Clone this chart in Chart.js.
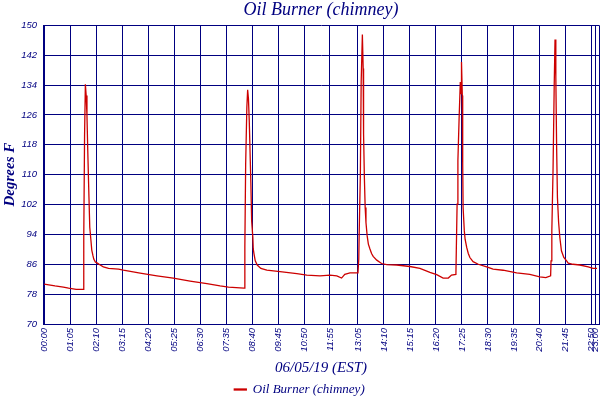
<!DOCTYPE html>
<html>
<head>
<meta charset="utf-8">
<title>Oil Burner (chimney)</title>
<script src="https://cdn.jsdelivr.net/npm/chart.js@4/dist/chart.umd.min.js"></script>
<style>
  html, body { margin: 0; padding: 0; background: #fff; }
  #wrap { width: 600px; height: 400px; }
</style>
</head>
<body>
<div id="wrap"><canvas id="burnerChart" width="600" height="400"></canvas></div>
<script>
// minutes after midnight
const times = [
  0, 27, 48, 61, 80, 98,
  99, 101, 103, 105, 107, 109, 112, 114, 117, 119, 122, 124, 128, 133, 140,
  148, 161, 186, 198, 240, 282, 323, 365, 407, 440, 461, 490, 500,
  502, 504, 507, 509, 511, 513, 517, 519, 522, 523, 525, 528, 533, 542,
  557, 590, 632, 657, 690, 715, 732, 744, 752, 765, 785,
  787, 788, 791, 793, 796, 798, 799, 801, 803, 805, 808, 811, 815, 819, 823,
  832, 844, 857, 882, 915, 940, 965, 982, 998, 1011, 1019, 1030,
  1031, 1033, 1035, 1038, 1041, 1043, 1044, 1046, 1047, 1048, 1051, 1053, 1057,
  1061, 1065, 1073, 1086, 1107, 1123, 1148, 1182, 1215, 1240, 1255, 1267,
  1268, 1270, 1273, 1276, 1278, 1280, 1282, 1284, 1287, 1290, 1294, 1300,
  1307, 1311, 1323, 1340, 1361, 1373, 1383
];

// chimney temperature, degrees F
const temps = [
  80.7, 80.2, 79.9, 79.6, 79.3, 79.3,
  93.0, 120.5, 134.2, 131.2, 125.8, 116.4, 103.9, 95.9, 92.3, 89.8, 88.3, 87.4, 86.6, 86.3, 85.8,
  85.3, 84.9, 84.7, 84.4, 83.6, 82.9, 82.3, 81.5, 80.8, 80.2, 79.9, 79.7, 79.6,
  90.7, 112.7, 128.1, 132.7, 130.3, 124.5, 107.9, 97.6, 93.2, 90.1, 88.7, 86.9, 85.8, 84.9,
  84.4, 84.0, 83.5, 83.1, 82.9, 83.1, 82.9, 82.3, 83.3, 83.7, 83.7,
  87.4, 94.1, 110.2, 134.8, 147.5, 138.4, 120.9, 109.3, 101.2, 97.2, 93.6, 91.4, 90.1, 88.9, 88.1,
  87.1, 86.2, 85.9, 85.8, 85.4, 84.9, 83.8, 83.2, 82.3, 82.3, 83.1, 83.3,
  89.6, 102.1, 113.8, 125.0, 134.8, 131.7, 140.2, 131.2, 112.9, 101.2, 95.0, 92.7, 90.5,
  88.9, 87.8, 86.7, 86.0, 85.3, 84.7, 84.4, 83.7, 83.3, 82.6, 82.4, 82.9,
  86.9, 95.0, 111.1, 134.3, 146.2, 136.1, 117.3, 103.9, 97.2, 93.2, 89.6, 87.8,
  86.9, 86.3, 86.0, 85.8, 85.3, 84.9, 84.9
];

// x-axis ticks
const tickMinutes = [0, 65, 130, 195, 260, 325, 390, 455, 520, 585, 650, 715, 785, 850,
  915, 980, 1045, 1110, 1175, 1240, 1305, 1370, 1380];
const tickLabels = ['00:00', '01:05', '02:10', '03:15', '04:20', '05:25', '06:30', '07:35',
  '08:40', '09:45', '10:50', '11:55', '13:05', '14:10', '15:15', '16:20', '17:25', '18:30',
  '19:35', '20:40', '21:45', '22:50', '23:00'];

const xMin = -3, xMax = 1388;
const navy = '#000080';
const red = '#cc0000';

const points = times.map((t, i) => ({ x: t, y: temps[i] }));

new Chart(document.getElementById('burnerChart'), {
  type: 'line',
  data: {
    datasets: [{
      label: 'Oil Burner (chimney)',
      data: points,
      borderColor: red,
      backgroundColor: red,
      borderWidth: 1.3,
      pointRadius: 0,
      tension: 0,
      fill: false
    }]
  },
  options: {
    responsive: false,
    animation: false,
    layout: { padding: { left: 0, right: 1, top: 0, bottom: -6 } },
    plugins: {
      title: {
        display: true,
        text: 'Oil Burner (chimney)',
        fullSize: false,
        color: navy,
        font: { family: 'Liberation Serif', size: 18, style: 'italic', weight: 'normal', lineHeight: 1.1 },
        padding: { top: 0, bottom: 5.5 }
      },
      legend: {
        position: 'bottom',
        labels: {
          color: navy,
          boxWidth: 12,
          boxHeight: 1,
          padding: 4,
          font: { family: 'Liberation Serif', size: 13, style: 'italic' }
        }
      },
      tooltip: { enabled: false }
    },
    scales: {
      x: {
        type: 'linear',
        min: xMin,
        max: xMax,
        afterBuildTicks: (scale) => {
          scale.ticks = tickMinutes.map(v => ({ value: v })).concat([{ value: xMax }]);
        },
        afterFit: (scale) => {
          scale.height = 55;
          scale.paddingLeft = 0;
          scale.paddingRight = 0;
        },
        ticks: {
          autoSkip: false,
          minRotation: 90,
          maxRotation: 90,
          padding: 4,
          color: navy,
          font: { family: 'Liberation Sans', size: 9.5, style: 'italic' },
          callback: (value) => {
            const i = tickMinutes.indexOf(value);
            return i >= 0 ? tickLabels[i] : '';
          }
        },
        grid: { color: navy, lineWidth: 1, drawTicks: false },
        border: { color: navy, width: 1 },
        title: {
          display: true,
          text: '06/05/19 (EST)',
          color: navy,
          font: { family: 'Liberation Serif', size: 15, style: 'italic' },
          padding: { top: 2, bottom: 2 }
        }
      },
      y: {
        min: 70,
        max: 150,
        afterFit: (scale) => {
          scale.width = 43;
          scale.paddingTop = 0;
          scale.paddingBottom = 0;
        },
        ticks: {
          stepSize: 8,
          padding: 6,
          color: navy,
          font: { family: 'Liberation Sans', size: 9.5, style: 'italic' }
        },
        grid: { color: navy, lineWidth: 1, drawTicks: false },
        border: { color: navy, width: 1 },
        title: {
          display: true,
          text: 'Degrees F',
          color: navy,
          font: { family: 'Liberation Serif', size: 15, style: 'italic', weight: 'bold' },
          padding: { top: 1, bottom: 0 }
        }
      }
    }
  }
});
</script>
</body>
</html>
